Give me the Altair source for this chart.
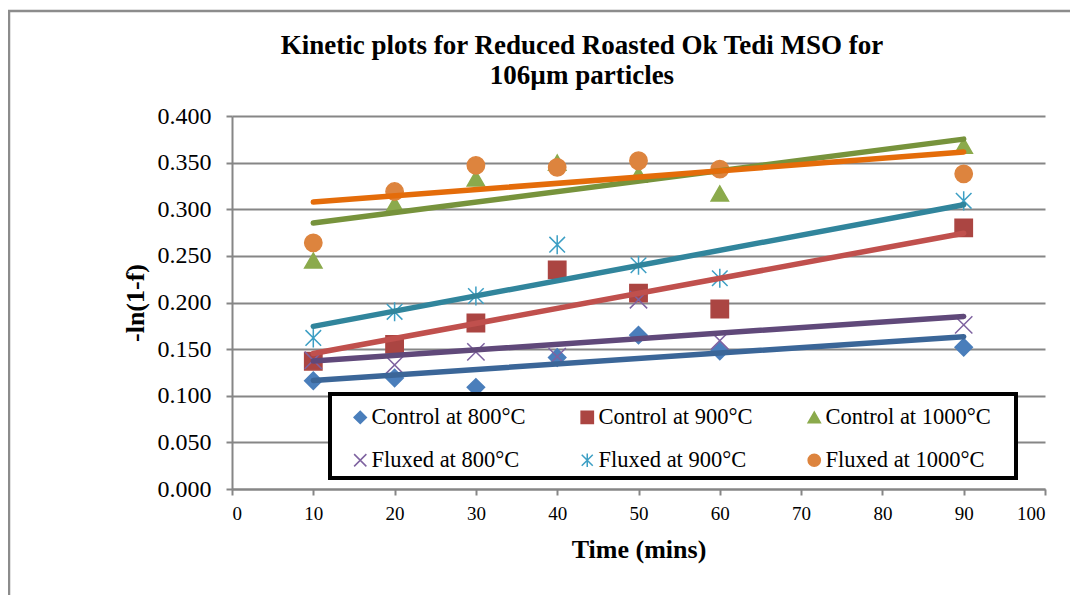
import altair as alt
import pandas as pd

times = [10, 20, 30, 40, 50, 60, 90]
series_names = ["Control at 800°C", "Control at 900°C", "Control at 1000°C",
                "Fluxed at 800°C", "Fluxed at 900°C", "Fluxed at 1000°C"]
control_800 = [0.116, 0.119, 0.109, 0.141, 0.165, 0.148, 0.152]
control_900 = [0.137, 0.155, 0.178, 0.235, 0.210, 0.193, 0.280]
control_1000 = [0.245, 0.305, 0.333, 0.350, 0.337, 0.317, 0.368]
fluxed_800 = [0.138, 0.133, 0.147, 0.142, 0.203, 0.159, 0.176]
fluxed_900 = [0.162, 0.190, 0.207, 0.262, 0.240, 0.226, 0.309]
fluxed_1000 = [0.264, 0.319, 0.347, 0.345, 0.352, 0.343, 0.338]
y_ticks = [0.0, 0.05, 0.1, 0.15, 0.2, 0.25, 0.3, 0.35, 0.4]
x_ticks = [0, 10, 20, 30, 40, 50, 60, 70, 80, 90, 100]
title_lines = ["Kinetic plots for Reduced Roasted Ok Tedi MSO for", "106µm particles"]

all_series = [control_800, control_900, control_1000, fluxed_800, fluxed_900, fluxed_1000]
rows = []
for name, vals in zip(series_names, all_series):
    for t, v in zip(times, vals):
        rows.append({"series": name, "t": t, "y": v})
df = pd.DataFrame(rows)

SERIF = "Liberation Serif"
GRID = "#868686"

marker_colors = ["#4A7EBB", "#AB4542", "#8BAA4C", "#7E62A0", "#3D9FC4", "#DD843E"]
marker_fills = ["#4A7EBB", "#AB4542", "#8BAA4C", "transparent", "transparent", "#DD843E"]
line_colors = ["#3B6698", "#C0504D", "#77933C", "#60497A", "#31859C", "#E46C0A"]
X_PATH = "M-1,-1L1,1M1,-1L-1,1"
AST_PATH = "M-0.9,-0.9L0.9,0.9M0.9,-0.9L-0.9,0.9M0,-1.1L0,1.1"
shapes = ["diamond", "square", "triangle-up", X_PATH, AST_PATH, "circle"]

xscale = alt.Scale(domain=[0, 100], nice=False)
yscale = alt.Scale(domain=[0, 0.4], nice=False)

xaxis = alt.Axis(values=x_ticks, grid=False, labelFont=SERIF, labelFontSize=19,
                 labelColor="black", tickColor=GRID, tickSize=6, tickWidth=2,
                 domainColor=GRID, domainWidth=2, labelPadding=9,
                 title="Time (mins)", titleFont=SERIF, titleFontSize=26,
                 titleFontWeight="bold", titleColor="black", titlePadding=13)
yaxis = alt.Axis(values=y_ticks, format=".3f", grid=True, gridColor=GRID, gridWidth=2,
                 labelFont=SERIF, labelFontSize=24, labelColor="black",
                 tickColor=GRID, tickSize=6, tickWidth=2, domainColor=GRID,
                 domainWidth=2, labelPadding=15,
                 title="-ln(1-f)", titleFont=SERIF, titleFontSize=26,
                 titleFontWeight="bold", titleColor="black", titlePadding=9)

base = alt.Chart(df)

points = base.mark_point(size=300, strokeWidth=1.5, opacity=1).encode(
    x=alt.X("t:Q", scale=xscale, axis=xaxis),
    y=alt.Y("y:Q", scale=yscale, axis=yaxis),
    shape=alt.Shape("series:N", scale=alt.Scale(domain=series_names, range=shapes),
                    legend=alt.Legend(title=None)),
    fill=alt.Fill("series:N", scale=alt.Scale(domain=series_names, range=marker_fills),
                  legend=alt.Legend(title=None)),
    stroke=alt.Stroke("series:N", scale=alt.Scale(domain=series_names, range=marker_colors),
                      legend=alt.Legend(title=None)),
)

lines = base.transform_regression(
    "t", "y", groupby=["series"], extent=[10, 90]
).mark_line(strokeWidth=5.5, strokeCap="round").encode(
    x=alt.X("t:Q", scale=xscale),
    y=alt.Y("y:Q", scale=yscale),
    color=alt.Color("series:N", scale=alt.Scale(domain=series_names, range=line_colors),
                    legend=None),
)

one = alt.Data(values=[{"k": 1}])

frame_top = alt.Chart(one).mark_rule(stroke="#8C8C8C", strokeWidth=2.5).encode(
    x=alt.value(-224), x2=alt.value(2000), y=alt.value(-105)
)
frame_left = alt.Chart(one).mark_rule(stroke="#8C8C8C", strokeWidth=2.5).encode(
    x=alt.value(-223), y=alt.value(-106), y2=alt.value(2000)
)

legend_box = alt.Chart(one).mark_rect(
    fill="white", stroke="black", strokeWidth=4
).encode(
    x=alt.value(98), x2=alt.value(784), y=alt.value(278), y2=alt.value(362)
)

title = alt.Chart(one).mark_text(
    text=title_lines, font=SERIF, fontSize=27, fontWeight="bold", color="black",
    align="center", baseline="middle", lineHeight=30
).encode(x=alt.value(350), y=alt.value(-70))

chart = alt.layer(frame_top, frame_left, title, points, lines, legend_box).properties(
    width=813, height=373,
    autosize=alt.AutoSizeParams(type="none"),
    padding={"left": 224, "top": 108, "right": 25, "bottom": 106},
).configure_view(stroke=None).configure_legend(
    orient="none", legendX=117, legendY=290, columns=3, direction="horizontal",
    labelFont=SERIF, labelFontSize=22.5, labelColor="black", labelLimit=400,
    symbolSize=150, symbolStrokeWidth=1.5, symbolOpacity=1,
    columnPadding=50, rowPadding=20, labelOffset=0, padding=0,
)

chart.save("out.html", embed_options={"renderer": "svg", "actions": False})
